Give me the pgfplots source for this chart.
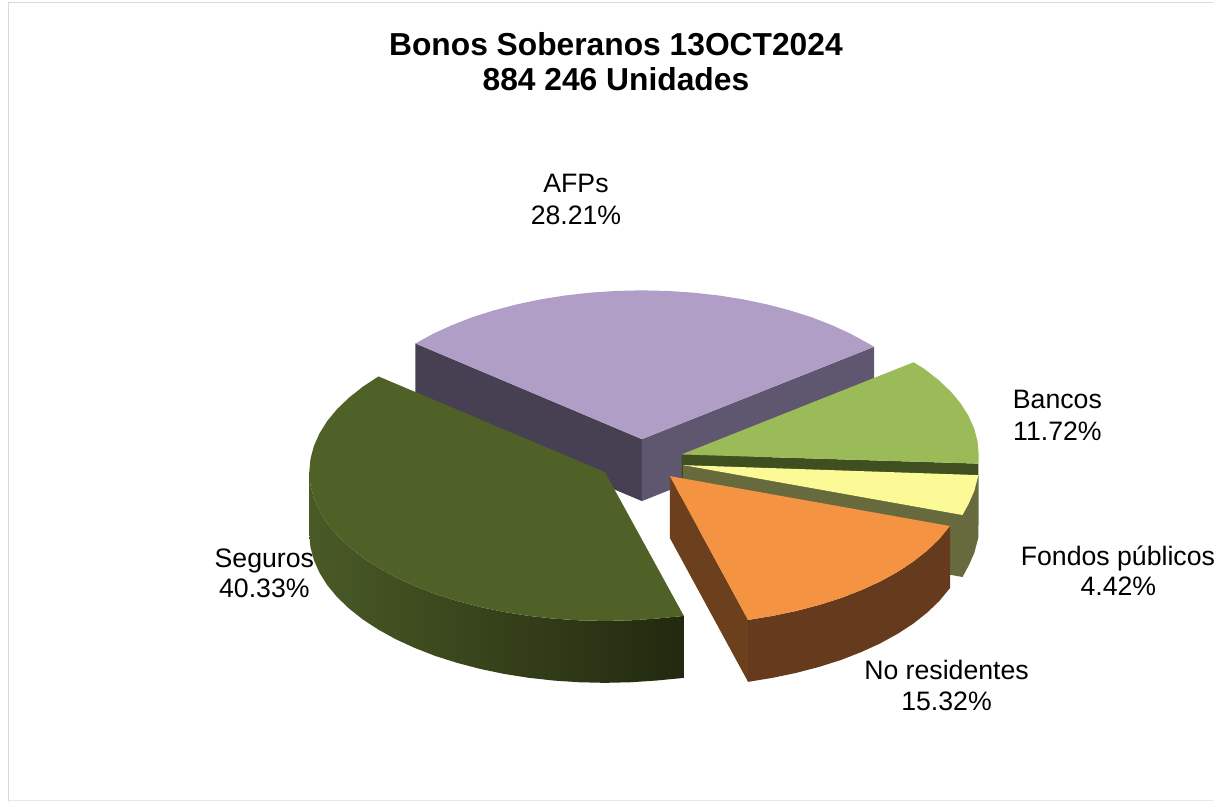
\documentclass[border=0pt]{standalone}
\usepackage{fontspec}
\setmainfont{Liberation Sans}
\usepackage{pgfplots}
\pgfplotsset{compat=1.18}
\definecolor{frameg}{HTML}{D9D9D9}
\definecolor{afptop}{HTML}{B09EC6}
\definecolor{afpl}{HTML}{473F52}
\definecolor{afpr}{HTML}{5F5670}
\definecolor{bantop}{HTML}{9BBB59}
\definecolor{banside}{HTML}{3F4F20}
\definecolor{fontop}{HTML}{FBFA96}
\definecolor{fonside}{HTML}{666A3D}
\definecolor{segtop}{HTML}{4F6127}
\definecolor{segl}{HTML}{4A5A26}
\definecolor{segm}{HTML}{3B481E}
\definecolor{segr}{HTML}{22290F}
\definecolor{nrtop}{HTML}{F49342}
\definecolor{nrl}{HTML}{6D401D}
\definecolor{nrs}{HTML}{663A1C}
\newcommand{\lab}[4]{\node[anchor=base,inner sep=0pt,font=#3] at (axis cs:#1,#2) {#4};}
\begin{document}
\begin{tikzpicture}
\begin{axis}[scale only axis,width=1215pt,height=803pt,xmin=-0.7,xmax=1214.3,ymin=-0.7,ymax=802.3,y dir=reverse,
  axis lines=none,clip=false,no markers]
% full canvas, so that the picture has the reference's extent
\addplot[draw=none] coordinates {(-0.7,-0.7) (1214.3,802.3)};
% frame
\addplot[draw=frameg,line width=1pt] coordinates {(7.5,801.8) (7.5,1.5) (1214,1.5)};
\addplot[draw=frameg!60,line width=1pt] coordinates {(7.5,801) (1214,801)};
% AFPs
\addplot[fill=afpl,draw=none] coordinates {(415.3,343.2) (642,439) (642,501) (415.3,405.2)};
\addplot[fill=afpr,draw=none] coordinates {(642,439) (874.5,346.5) (874.5,408.5) (642,501)};
\addplot[fill=afptop,draw=none] coordinates {(642,439) (415.3,343.2) (432.7,333.6) (451.7,324.9) (472.2,316.9) (494,310) (516.9,304) (540.8,299) (565.4,295.1) (590.6,292.3) (616.2,290.6) (642,290) (667.8,290.6) (693.4,292.3) (718.6,295.1) (743.2,299) (767.1,304) (790,310) (811.8,316.9) (832.3,324.9) (851.3,333.6) (868.7,343.2) (874.5,346.5)};
% Bancos
\addplot[fill=banside,draw=none] coordinates {(681.7,454.3) (979,463.5) (979,525.5) (681.7,516.3)};
\addplot[fill=bantop,draw=none] coordinates {(681.7,454.3) (914,362) (925,368.8) (939,379.8) (951.2,391.3) (961.2,403.3) (969,415.7) (974.7,428.4) (978.1,441.3) (979.2,454.3) (979,463.5)};
% Fondos publicos
\addplot[fill=fonside,draw=none] coordinates {(683.3,465) (963,515) (969.2,503.6) (974.8,490.9) (978.2,478) (979,475) (979,537) (978.2,540) (974.8,552.9) (969.2,565.6) (963,577) (683.3,527)};
\addplot[fill=fontop,draw=none] coordinates {(683.3,465) (979,475) (978.2,478) (974.8,490.9) (969.2,503.6) (963,515)};
% Seguros
\addplot[left color=segl,middle color=segm,right color=segr,draw=none] coordinates {(684,616) (656.4,618.7) (630.8,620.4) (605,621) (579.2,620.4) (553.6,618.7) (528.4,615.9) (503.8,612) (479.9,607) (457,601) (435.2,594.1) (414.7,586.1) (395.7,577.4) (378.3,567.8) (362.5,557.5) (348.7,546.5) (336.7,535) (326.8,523) (319.1,510.6) (313.5,497.9) (310.1,485) (309,472) (309,534) (310.1,547) (313.5,559.9) (319.1,572.6) (326.8,585) (336.7,597) (348.7,608.5) (362.5,619.5) (378.3,629.8) (395.7,639.4) (414.7,648.1) (435.2,656.1) (457,663) (479.9,669) (503.8,674) (528.4,677.9) (553.6,680.7) (579.2,682.4) (605,683) (630.8,682.4) (656.4,680.7) (684,678)};
\addplot[fill=segtop,draw=none] coordinates {(605,472) (684,616) (656.4,618.7) (630.8,620.4) (605,621) (579.2,620.4) (553.6,618.7) (528.4,615.9) (503.8,612) (479.9,607) (457,601) (435.2,594.1) (414.7,586.1) (395.7,577.4) (378.3,567.8) (362.5,557.5) (348.7,546.5) (336.7,535) (326.8,523) (319.1,510.6) (313.5,497.9) (310.1,485) (309,472) (310.1,459) (313.5,446.1) (319.1,433.4) (326.8,421) (336.7,409) (348.7,397.5) (362.5,386.5) (378.3,376.2)};
% No residentes
\addplot[fill=nrl,draw=none] coordinates {(670,476) (748.3,620) (748.3,682) (670,538)};
\addplot[fill=nrs,draw=none] coordinates {(748.3,620) (772.7,616) (796.6,611) (819.5,605) (841.3,598.1) (861.8,590.1) (880.8,581.4) (898.2,571.8) (914,561.5) (927.8,550.5) (939.8,539) (950.5,526) (950.5,588) (939.8,601) (927.8,612.5) (914,623.5) (898.2,633.8) (880.8,643.4) (861.8,652.1) (841.3,660.1) (819.5,667) (796.6,673) (772.7,678) (748.3,682)};
\addplot[fill=nrtop,draw=none] coordinates {(670,476) (950.5,526) (939.8,539) (927.8,550.5) (914,561.5) (898.2,571.8) (880.8,581.4) (861.8,590.1) (841.3,598.1) (819.5,605) (796.6,611) (772.7,616) (748.3,620)};
% texts
\lab{616}{55}{\bfseries\fontsize{31.8}{36}\selectfont}{Bonos Soberanos 13OCT2024}
\lab{616}{90}{\bfseries\fontsize{31.8}{36}\selectfont}{884 246 Unidades}
\lab{576}{192}{\fontsize{26.7}{30}\selectfont}{AFPs}
\lab{576}{224}{\fontsize{26.7}{30}\selectfont}{28.21\%}
\lab{1058}{408}{\fontsize{26.7}{30}\selectfont}{Bancos}
\lab{1058}{440}{\fontsize{26.7}{30}\selectfont}{11.72\%}
\lab{1118.6}{565}{\fontsize{26.7}{30}\selectfont}{Fondos públicos}
\lab{1119}{596}{\fontsize{26.7}{30}\selectfont}{4.42\%}
\lab{947}{680}{\fontsize{26.7}{30}\selectfont}{No residentes}
\lab{947}{711}{\fontsize{26.7}{30}\selectfont}{15.32\%}
\lab{264}{567}{\fontsize{26.7}{30}\selectfont}{Seguros}
\lab{264}{598}{\fontsize{26.7}{30}\selectfont}{40.33\%}
\end{axis}
\end{tikzpicture}
\end{document}
